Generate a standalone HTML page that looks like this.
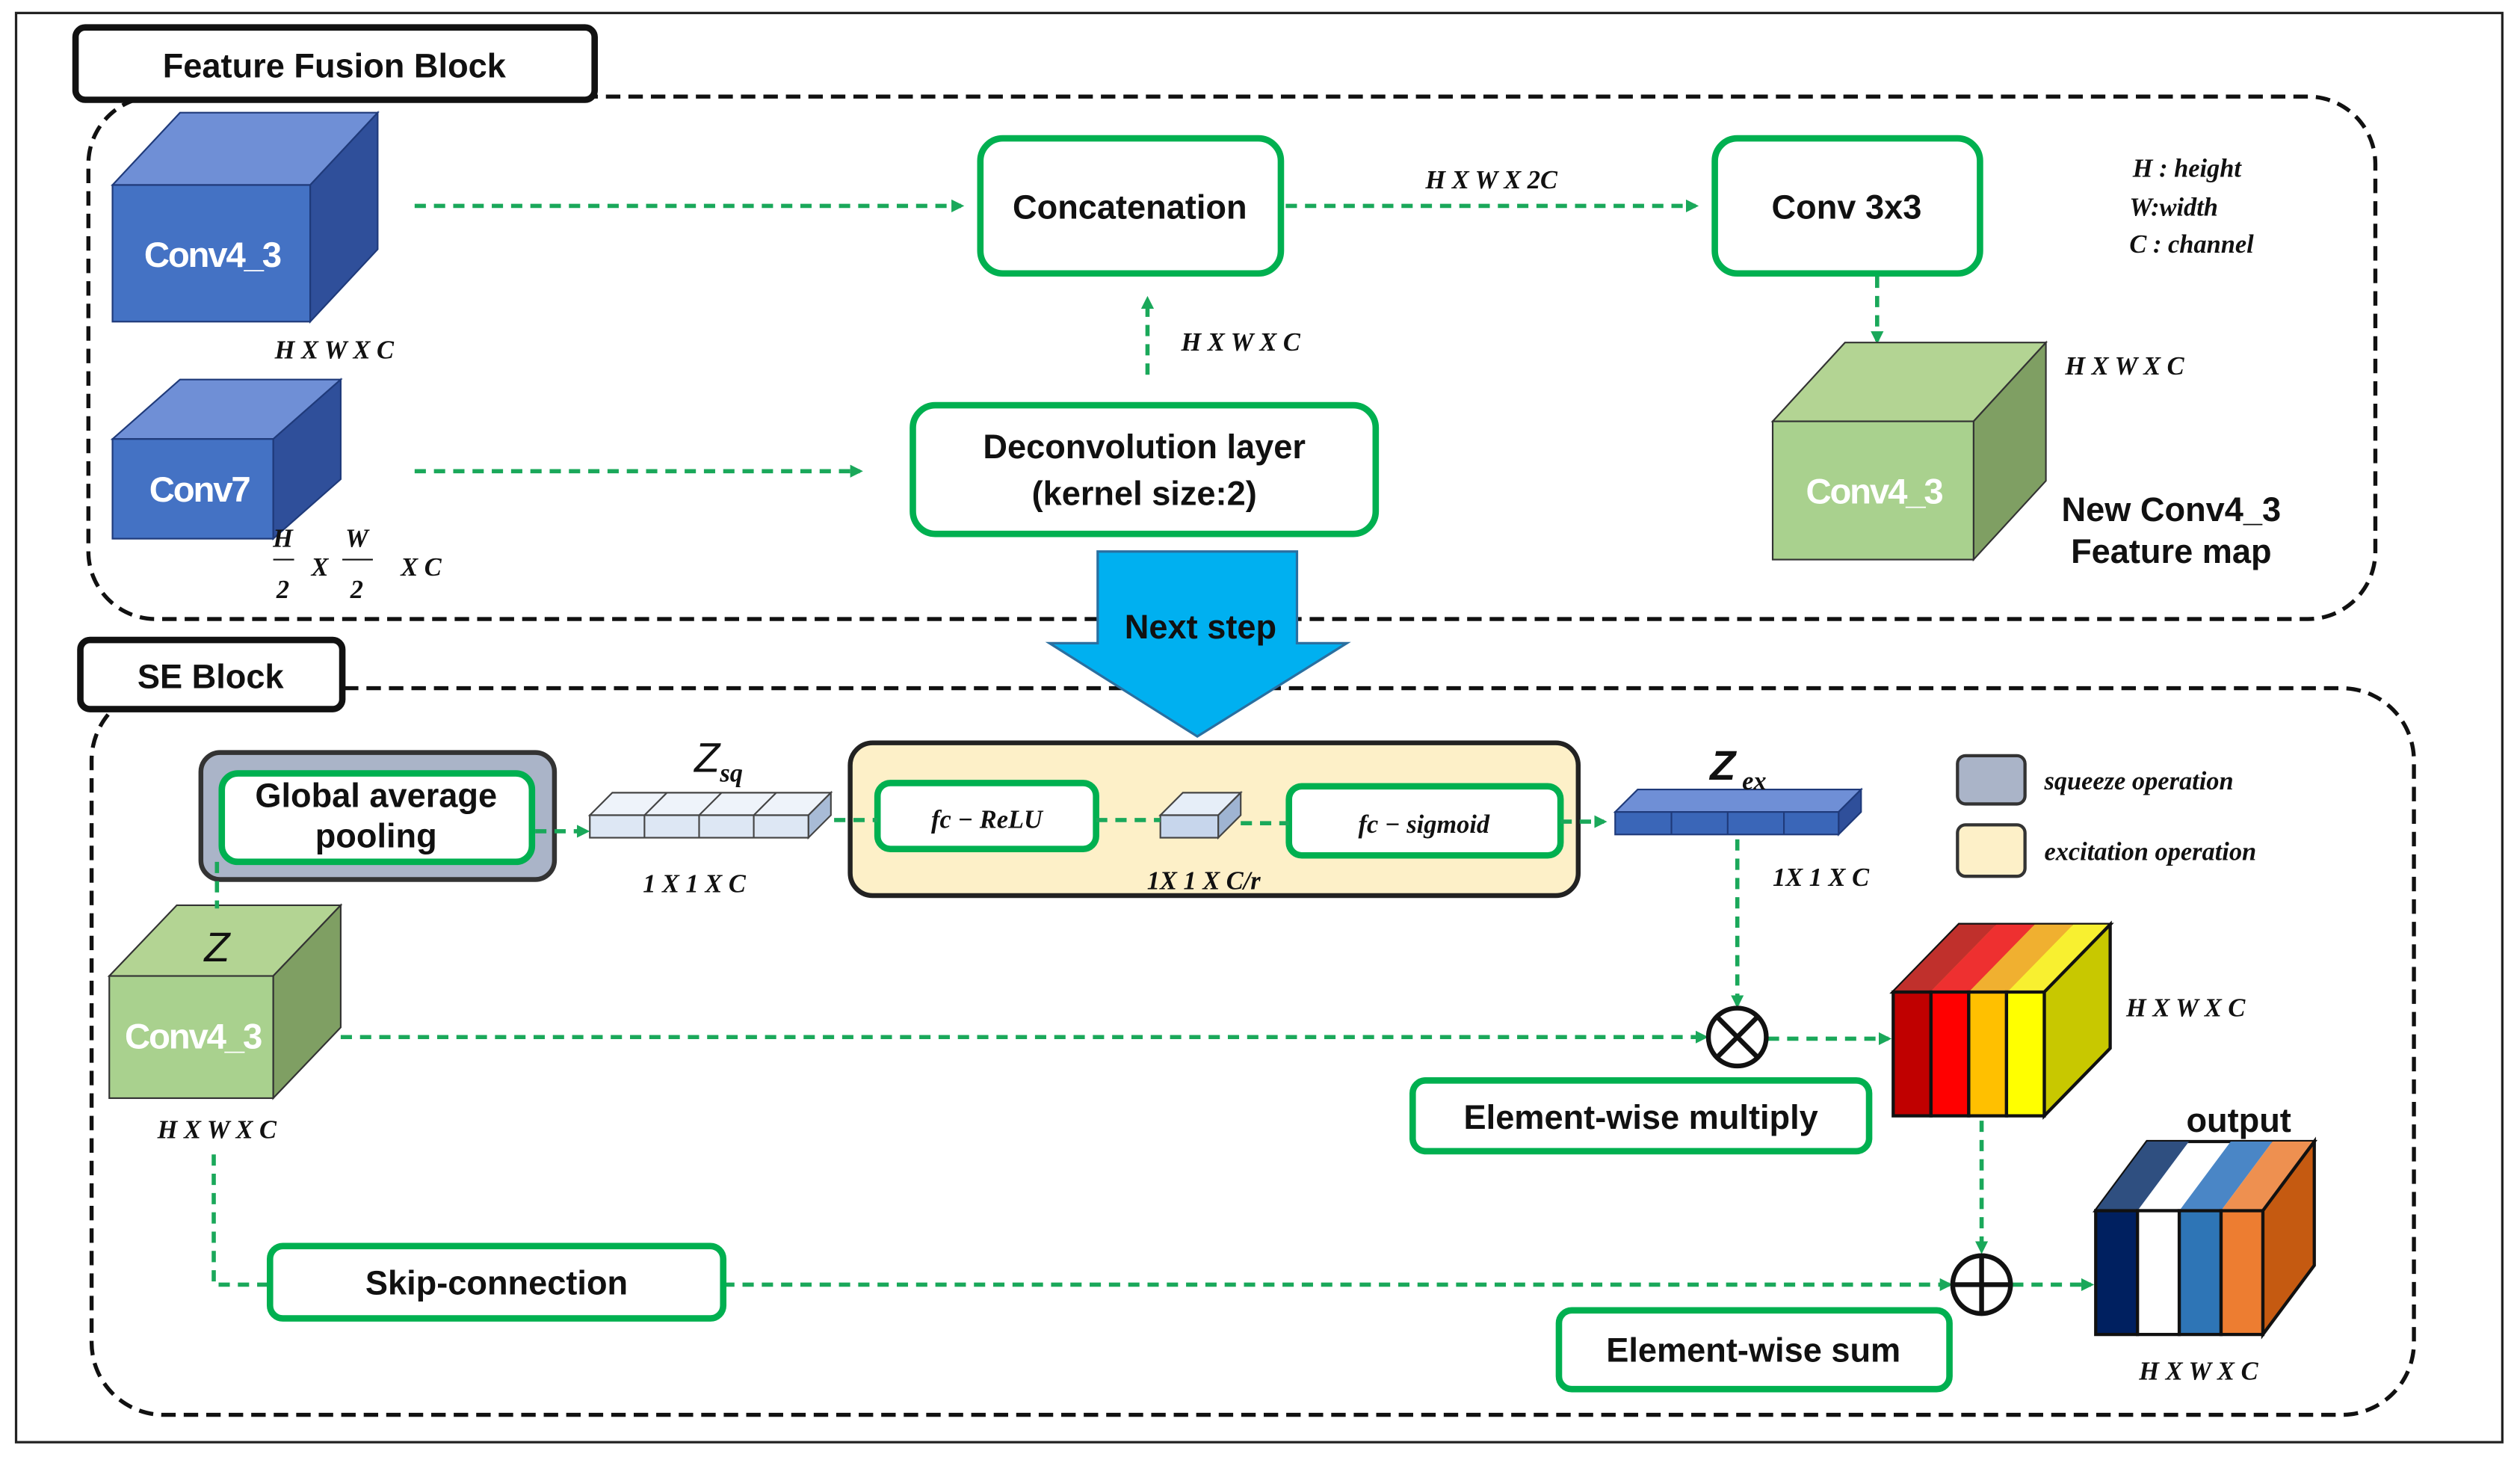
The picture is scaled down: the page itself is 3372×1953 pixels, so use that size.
<!DOCTYPE html>
<html><head><meta charset="utf-8"><style>
html,body{margin:0;padding:0;background:#fff}
svg{display:block}
text{font-family:"Liberation Sans",sans-serif}
.b{font-weight:bold;font-size:21px;fill:#111}
.m{font-family:"Liberation Serif",serif;font-style:italic;font-weight:bold;font-size:16px;fill:#111}
.g{stroke:#00b050;stroke-width:4}
.d{fill:none;stroke:#1aa85a;stroke-width:2.6;stroke-dasharray:7 5}
.w{font-weight:bold;font-size:22px;fill:#fff;letter-spacing:-1px}
</style></head><body>
<svg width="3372" height="1953" viewBox="0 0 1568 908" xmlns="http://www.w3.org/2000/svg">
<defs><marker id="a" markerWidth="8" markerHeight="8" refX="6" refY="4" orient="auto" markerUnits="userSpaceOnUse"><path d="M0,0 L8,4 L0,8 z" fill="#1aa85a"/></marker></defs>
<rect x="10" y="8" width="1547" height="889" fill="none" stroke="#222" stroke-width="1.5"/>
<rect x="55" y="60" width="1423" height="325" rx="42" fill="none" stroke="#111" stroke-width="2.5" stroke-dasharray="9 5"/>
<rect x="57" y="428" width="1445" height="452" rx="45" fill="none" stroke="#111" stroke-width="2.5" stroke-dasharray="9 5"/>
<rect x="47" y="17" width="323" height="45" rx="6" fill="#fff" stroke="#111" stroke-width="4"/>
<text x="208" y="48" class="b" text-anchor="middle">Feature Fusion Block</text>
<rect x="50" y="398" width="163" height="43" rx="6" fill="#fff" stroke="#111" stroke-width="4"/>
<text x="131" y="428" class="b" text-anchor="middle">SE Block</text>

<polygon points="70,115 112,70 235,70 193,115" fill="#6f8fd6" stroke="#1f3a7a"/>
<polygon points="193,115 235,70 235,155 193,200" fill="#2f4f9a" stroke="#1f3a7a"/>
<rect x="70" y="115" width="123" height="85" fill="#4472c4" stroke="#1f3a7a"/>
<text x="132" y="166" class="w" text-anchor="middle">Conv4_3</text>
<text x="208" y="223" class="m" text-anchor="middle">H X W X C</text>
<polygon points="70,273 112,236 212,236 170,273" fill="#6f8fd6" stroke="#1f3a7a"/>
<polygon points="170,273 212,236 212,298 170,335" fill="#2f4f9a" stroke="#1f3a7a"/>
<rect x="70" y="273" width="100" height="62" fill="#4472c4" stroke="#1f3a7a"/>
<text x="124" y="312" class="w" text-anchor="middle">Conv7</text>
<text x="176" y="340" class="m" text-anchor="middle">H</text><line x1="170" y1="348" x2="183" y2="348" stroke="#111"/><text x="176" y="372" class="m" text-anchor="middle">2</text>
<text x="199" y="358" class="m" text-anchor="middle">X</text>
<text x="222" y="340" class="m" text-anchor="middle">W</text><line x1="213" y1="348" x2="232" y2="348" stroke="#111"/><text x="222" y="372" class="m" text-anchor="middle">2</text>
<text x="262" y="358" class="m" text-anchor="middle">X  C</text>

<rect x="610" y="86" width="187" height="84" rx="14" style="fill:#fff" class="g"/>
<text x="703" y="136" class="b" text-anchor="middle">Concatenation</text>
<rect x="1067" y="86" width="165" height="84" rx="14" style="fill:#fff" class="g"/>
<text x="1149" y="136" class="b" text-anchor="middle">Conv 3x3</text>
<rect x="568" y="252" width="288" height="80" rx="14" style="fill:#fff" class="g"/>
<text x="712" y="285" class="b" text-anchor="middle">Deconvolution layer</text>
<text x="712" y="314" class="b" text-anchor="middle">(kernel size:2)</text>
<text x="928" y="117" class="m" text-anchor="middle">H X W X 2C</text>
<text x="772" y="218" class="m" text-anchor="middle" font-size="14">H X W X C</text>
<text x="1327" y="110" class="m" font-size="15">H : height</text>
<text x="1325" y="134" class="m" font-size="15">W:width</text>
<text x="1325" y="157" class="m" font-size="15">C : channel</text>

<line x1="258" y1="128" x2="598" y2="128" class="d" marker-end="url(#a)"/>
<line x1="258" y1="293" x2="535" y2="293" class="d" marker-end="url(#a)"/>
<line x1="714" y1="233" x2="714" y2="186" class="d" marker-end="url(#a)"/>
<line x1="800" y1="128" x2="1055" y2="128" class="d" marker-end="url(#a)"/>
<line x1="1168" y1="172" x2="1168" y2="212" class="d" marker-end="url(#a)"/>

<polygon points="1103,262 1148,213 1273,213 1228,262" fill="#b3d493" stroke="#333"/>
<polygon points="1228,262 1273,213 1273,299 1228,348" fill="#7f9f63" stroke="#333"/>
<rect x="1103" y="262" width="125" height="86" fill="#a9d18e" stroke="#333"/>
<text x="1166" y="313" class="w" text-anchor="middle">Conv4_3</text>
<text x="1322" y="233" class="m" text-anchor="middle">H X W X C</text>
<text x="1351" y="324" class="b" font-size="19" text-anchor="middle">New Conv4_3</text>
<text x="1351" y="350" class="b" font-size="19" text-anchor="middle">Feature map</text>

<polygon points="683,343 807,343 807,400 838,400 745,458 653,400 683,400" fill="#00b0f0" stroke="#2a6fa0" stroke-width="1.5"/>
<text x="747" y="397" class="b" text-anchor="middle">Next step</text>

<rect x="125" y="468" width="220" height="79" rx="12" fill="#aab4c8" stroke="#333" stroke-width="3"/>
<rect x="138" y="481" width="193" height="55" rx="10" style="fill:#fff" class="g"/>
<text x="234" y="502" class="b" font-size="18" text-anchor="middle">Global average</text>
<text x="234" y="527" class="b" font-size="18" text-anchor="middle">pooling</text>
<rect x="529" y="462" width="453" height="95" rx="14" fill="#fdf0c8" stroke="#222" stroke-width="3"/>
<rect x="546" y="487" width="136" height="41" rx="8" style="fill:#fff" class="g"/>
<text x="614" y="515" class="m" font-size="19" text-anchor="middle">fc − ReLU</text>
<rect x="802" y="489" width="169" height="43" rx="8" style="fill:#fff" class="g"/>
<text x="886" y="518" class="m" font-size="19" text-anchor="middle">fc − sigmoid</text>
<polygon points="722,507 736,493 772,493 758,507" fill="#e6eef8" stroke="#444"/>
<polygon points="758,507 772,493 772,507 758,521" fill="#9fb4d2" stroke="#444"/>
<rect x="722" y="507" width="36" height="14" fill="#c7d6ec" stroke="#444"/>
<text x="749" y="553" class="m" text-anchor="middle">1X 1 X C/r</text>

<polygon points="367,507 381,493 517,493 503,507" fill="#eef3fa" stroke="#444"/>
<polygon points="503,507 517,493 517,507 503,521" fill="#a8bbd6" stroke="#444"/>
<rect x="367" y="507" width="136" height="14" fill="#dde7f4" stroke="#444"/>
<line x1="401" y1="507" x2="401" y2="521" stroke="#444"/><line x1="435" y1="507" x2="435" y2="521" stroke="#444"/><line x1="469" y1="507" x2="469" y2="521" stroke="#444"/>
<line x1="401" y1="507" x2="415" y2="493" stroke="#444"/><line x1="435" y1="507" x2="449" y2="493" stroke="#444"/><line x1="469" y1="507" x2="483" y2="493" stroke="#444"/>
<text x="432" y="480" font-family="Liberation Serif,serif" font-style="italic" font-size="26" fill="#111">Z</text><text x="448" y="486" class="m" font-size="18">sq</text>
<text x="432" y="555" class="m" text-anchor="middle">1 X 1 X C</text>
<polygon points="1005,505 1019,491 1158,491 1144,505" fill="#6f8fd6" stroke="#1f3a7a"/>
<polygon points="1144,505 1158,491 1158,505 1144,519" fill="#2f4f9a" stroke="#1f3a7a"/>
<rect x="1005" y="505" width="139" height="14" fill="#3a66b8" stroke="#1f3a7a"/>
<line x1="1040" y1="505" x2="1040" y2="519" stroke="#1f3a7a"/><line x1="1075" y1="505" x2="1075" y2="519" stroke="#1f3a7a"/><line x1="1110" y1="505" x2="1110" y2="519" stroke="#1f3a7a"/>
<text x="1064" y="485" font-family="Liberation Serif,serif" font-style="italic" font-weight="bold" font-size="26" fill="#111">Z</text><text x="1084" y="491" class="m" font-size="18">ex</text>
<text x="1133" y="551" class="m" text-anchor="middle">1X 1 X C</text>

<rect x="1218" y="470" width="42" height="30" rx="5" fill="#aab4c8" stroke="#333" stroke-width="2"/>
<rect x="1218" y="513" width="42" height="32" rx="5" fill="#fdf0c8" stroke="#333" stroke-width="2"/>
<text x="1272" y="491" class="m" font-size="18">squeeze operation</text>
<text x="1272" y="535" class="m" font-size="18">excitation operation</text>

<polygon points="68,607 110,563 212,563 170,607" fill="#b3d493" stroke="#333"/>
<polygon points="170,607 212,563 212,639 170,683" fill="#7f9f63" stroke="#333"/>
<rect x="68" y="607" width="102" height="76" fill="#a9d18e" stroke="#333"/>
<text x="120" y="652" class="w" text-anchor="middle">Conv4_3</text>
<text x="135" y="598" font-family="Liberation Serif,serif" font-style="italic" font-size="26" fill="#111" text-anchor="middle">Z</text>
<text x="135" y="708" class="m" text-anchor="middle">H X W X C</text>

<polygon points="1178,617 1219,575 1313,575 1272,617" fill="#e0a020" stroke="#111" stroke-width="2"/>
<polygon points="1178,617 1219,575 1242,575 1201,617" fill="#c0302c"/>
<polygon points="1201,617 1242,575 1266,575 1225,617" fill="#ee3030"/>
<polygon points="1225,617 1266,575 1290,575 1249,617" fill="#f0b030"/>
<polygon points="1249,617 1290,575 1313,575 1272,617" fill="#f8f030"/>
<polygon points="1272,617 1313,575 1313,652 1272,694" fill="#c8c800" stroke="#111" stroke-width="2"/>
<rect x="1178" y="617" width="23.5" height="77" fill="#c00000" stroke="#111" stroke-width="2"/>
<rect x="1201.5" y="617" width="23.5" height="77" fill="#ff0000" stroke="#111" stroke-width="2"/>
<rect x="1225" y="617" width="23.5" height="77" fill="#ffc000" stroke="#111" stroke-width="2"/>
<rect x="1248.5" y="617" width="23.5" height="77" fill="#ffff00" stroke="#111" stroke-width="2"/>
<text x="1360" y="632" class="m" text-anchor="middle">H X W X C</text>

<text x="1393" y="704" class="b" font-size="24" text-anchor="middle">output</text>
<polygon points="1304,753 1336,710 1440,710 1408,753" fill="#fff" stroke="#111" stroke-width="2"/>
<polygon points="1304,753 1336,710 1362,710 1330,753" fill="#2f4f80"/>
<polygon points="1356,753 1388,710 1414,710 1382,753" fill="#4a86c6"/>
<polygon points="1382,753 1414,710 1440,710 1408,753" fill="#ee9050"/>
<polygon points="1408,753 1440,710 1440,787 1408,830" fill="#c55a11" stroke="#111" stroke-width="2"/>
<rect x="1304" y="753" width="26" height="77" fill="#002060" stroke="#111" stroke-width="2"/>
<rect x="1330" y="753" width="26" height="77" fill="#fff" stroke="#111" stroke-width="2"/>
<rect x="1356" y="753" width="26" height="77" fill="#2e75b6" stroke="#111" stroke-width="2"/>
<rect x="1382" y="753" width="26" height="77" fill="#ed7d31" stroke="#111" stroke-width="2"/>
<text x="1368" y="858" class="m" text-anchor="middle">H X W X C</text>

<line x1="333" y1="517" x2="365" y2="517" class="d" marker-end="url(#a)"/>
<line x1="519" y1="510" x2="546" y2="510" class="d"/>
<line x1="682" y1="510" x2="722" y2="510" class="d"/>
<line x1="772" y1="512" x2="802" y2="512" class="d"/>
<line x1="971" y1="511" x2="998" y2="511" class="d" marker-end="url(#a)"/>
<line x1="135" y1="536" x2="135" y2="565" class="d"/>
<line x1="1081" y1="522" x2="1081" y2="625" class="d" marker-end="url(#a)"/>
<line x1="212" y1="645" x2="1061" y2="645" class="d" marker-end="url(#a)"/>
<line x1="1100" y1="646" x2="1175" y2="646" class="d" marker-end="url(#a)"/>
<polyline points="133,718 133,799 168,799" class="d"/>
<line x1="450" y1="799" x2="1213" y2="799" class="d" marker-end="url(#a)"/>
<line x1="1233" y1="697" x2="1233" y2="778" class="d" marker-end="url(#a)"/>
<line x1="1252" y1="799" x2="1301" y2="799" class="d" marker-end="url(#a)"/>
<circle cx="1081" cy="645" r="18" fill="#fff" stroke="#111" stroke-width="3"/>
<line x1="1068" y1="632" x2="1094" y2="658" stroke="#111" stroke-width="3"/><line x1="1094" y1="632" x2="1068" y2="658" stroke="#111" stroke-width="3"/>
<circle cx="1233" cy="799" r="18" fill="#fff" stroke="#111" stroke-width="3"/>
<line x1="1215" y1="799" x2="1251" y2="799" stroke="#111" stroke-width="3"/><line x1="1233" y1="781" x2="1233" y2="817" stroke="#111" stroke-width="3"/>

<rect x="879" y="672" width="284" height="44" rx="8" style="fill:#fff" class="g"/>
<text x="1021" y="702" class="b" text-anchor="middle">Element-wise multiply</text>
<rect x="168" y="775" width="282" height="45" rx="8" style="fill:#fff" class="g"/>
<text x="309" y="805" class="b" text-anchor="middle">Skip-connection</text>
<rect x="970" y="815" width="243" height="49" rx="8" style="fill:#fff" class="g"/>
<text x="1091" y="847" class="b" text-anchor="middle">Element-wise sum</text>
</svg>
</body></html>
